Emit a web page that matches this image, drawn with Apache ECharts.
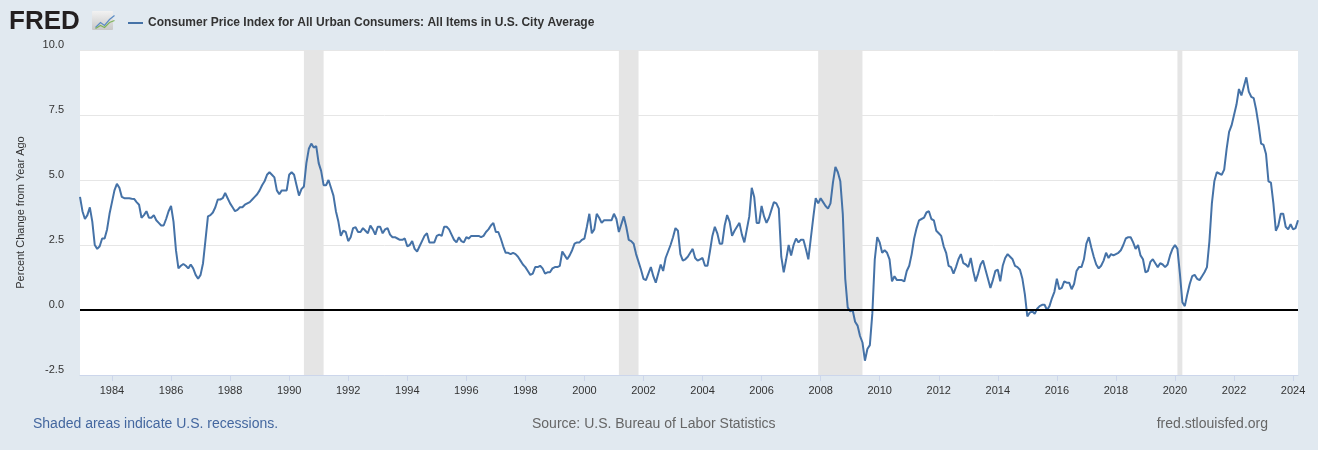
<!DOCTYPE html>
<html>
<head>
<meta charset="utf-8">
<title>CPI - Percent Change from Year Ago</title>
<script src="https://cdn.jsdelivr.net/npm/echarts@6/dist/echarts.min.js"></script>
<style>
  html, body { margin: 0; padding: 0; background: #e1e9f0; }
  #chart { width: 1318px; height: 450px; }
</style>
</head>
<body>
<div id="chart"></div>
<script>
// first observation of the series (monthly)
var startYear = 1982;
var startMonth = 12;

// CPI-U, percent change from year ago, monthly
var cpiYoY = [
  4.35, // Dec 1982
  3.8, 3.5, 3.65, 3.95, 3.4, 2.5, 2.35, 2.45, 2.75, 2.75, 3.1, 3.7,        // 1983
  4.15, 4.6, 4.85, 4.7, 4.35, 4.3, 4.3, 4.3, 4.28, 4.27, 4.15, 4.05,      // 1984
  3.55, 3.65, 3.8, 3.55, 3.55, 3.65, 3.45, 3.35, 3.25, 3.25, 3.5, 3.8,    // 1985
  4.0, 3.4, 2.3, 1.6, 1.7, 1.77, 1.7, 1.6, 1.75, 1.6, 1.35, 1.2,          // 1986
  1.35, 1.8, 2.7, 3.6, 3.65, 3.75, 3.95, 4.25, 4.25, 4.3, 4.5, 4.3,       // 1987
  4.1, 3.95, 3.8, 3.85, 3.95, 3.95, 4.05, 4.1, 4.15, 4.25, 4.35, 4.45,    // 1988
  4.6, 4.8, 4.95, 5.2, 5.3, 5.2, 5.1, 4.6, 4.45, 4.6, 4.6, 4.6,           // 1989
  5.2, 5.3, 5.2, 4.8, 4.4, 4.65, 4.75, 5.65, 6.2, 6.4, 6.25, 6.3,         // 1990
  5.65, 5.35, 4.8, 4.8, 5.0, 4.7, 4.4, 3.8, 3.4, 2.85, 3.05, 3.0,         // 1991
  2.65, 2.8, 3.15, 3.18, 3.0, 3.0, 3.15, 3.05, 2.95, 3.25, 3.1, 2.9,      // 1992
  3.2, 3.2, 2.95, 3.1, 3.15, 2.9, 2.8, 2.8, 2.75, 2.7, 2.7, 2.75,         // 1993
  2.45, 2.5, 2.65, 2.35, 2.25, 2.45, 2.65, 2.85, 2.95, 2.6, 2.6, 2.6,     // 1994
  2.85, 2.9, 2.85, 3.2, 3.2, 3.1, 2.9, 2.7, 2.6, 2.8, 2.65, 2.6,          // 1995
  2.8, 2.75, 2.85, 2.85, 2.85, 2.85, 2.8, 2.85, 3.0, 3.1, 3.25, 3.35,     // 1996
  3.0, 3.0, 2.75, 2.45, 2.2, 2.2, 2.15, 2.2, 2.15, 2.05, 1.9, 1.75,       // 1997
  1.65, 1.5, 1.35, 1.4, 1.65, 1.65, 1.7, 1.6, 1.4, 1.45, 1.45, 1.6,       // 1998
  1.65, 1.65, 1.7, 2.25, 2.1, 1.95, 2.1, 2.3, 2.55, 2.6, 2.6, 2.7,        // 1999
  2.75, 3.2, 3.7, 2.95, 3.1, 3.7, 3.55, 3.35, 3.45, 3.45, 3.45, 3.45,     // 2000
  3.7, 3.5, 3.0, 3.3, 3.6, 3.2, 2.7, 2.65, 2.55, 2.15, 1.85, 1.55,        // 2001
  1.2, 1.15, 1.4, 1.65, 1.3, 1.05, 1.4, 1.75, 1.5, 2.0, 2.25, 2.5,        // 2002
  2.8, 3.15, 3.05, 2.15, 1.9, 1.95, 2.05, 2.2, 2.35, 2.0, 1.9, 1.95,      // 2003
  2.0, 1.7, 1.7, 2.25, 2.85, 3.2, 2.95, 2.55, 2.55, 3.25, 3.65, 3.4,      // 2004
  2.85, 3.05, 3.2, 3.35, 2.9, 2.6, 3.1, 3.6, 4.7, 4.35, 3.35, 3.35,       // 2005
  4.0, 3.6, 3.35, 3.55, 3.85, 4.15, 4.1, 3.9, 2.05, 1.45, 1.95, 2.5,      // 2006
  2.1, 2.5, 2.75, 2.6, 2.7, 2.7, 2.35, 1.95, 2.75, 3.55, 4.3, 4.1,        // 2007
  4.3, 4.15, 4.0, 3.9, 4.1, 4.9, 5.5, 5.3, 4.95, 3.7, 1.2, 0.1,           // 2008
  -0.05, 0.0, -0.45, -0.6, -1.0, -1.25, -1.95, -1.5, -1.35, -0.15, 1.95, 2.8, // 2009
  2.6, 2.2, 2.3, 2.2, 1.95, 1.1, 1.3, 1.15, 1.15, 1.15, 1.1, 1.5,         // 2010
  1.7, 2.15, 2.75, 3.15, 3.45, 3.5, 3.55, 3.75, 3.8, 3.5, 3.45, 3.05,     // 2011
  2.95, 2.85, 2.45, 2.2, 1.7, 1.65, 1.4, 1.65, 1.95, 2.15, 1.8, 1.75,     // 2012
  1.65, 2.0, 1.5, 1.1, 1.4, 1.75, 1.9, 1.55, 1.2, 0.85, 1.15, 1.5,        // 2013
  1.55, 1.1, 1.7, 2.0, 2.15, 2.05, 1.95, 1.7, 1.65, 1.55, 1.2, 0.6,       // 2014
  -0.25, -0.1, -0.05, -0.15, 0.05, 0.15, 0.2, 0.2, 0.0, 0.15, 0.45, 0.7,  // 2015
  1.2, 0.8, 0.85, 1.1, 1.05, 1.05, 0.8, 1.0, 1.5, 1.65, 1.65, 1.95,       // 2016
  2.55, 2.8, 2.4, 2.05, 1.75, 1.6, 1.7, 1.9, 2.2, 2.0, 2.15, 2.1,         // 2017
  2.15, 2.2, 2.3, 2.5, 2.75, 2.8, 2.8, 2.6, 2.35, 2.5, 2.1, 1.95,         // 2018
  1.45, 1.5, 1.85, 1.95, 1.8, 1.65, 1.8, 1.75, 1.65, 1.75, 2.1, 2.35,     // 2019
  2.5, 2.35, 1.4, 0.3, 0.15, 0.6, 1.0, 1.3, 1.35, 1.2, 1.15, 1.3,         // 2020
  1.45, 1.65, 2.65, 4.1, 4.95, 5.3, 5.25, 5.2, 5.4, 6.2, 6.85, 7.1,       // 2021
  7.5, 7.9, 8.5, 8.25, 8.6, 8.95, 8.4, 8.2, 8.15, 7.7, 7.1, 6.4,          // 2022
  6.35, 6.0, 4.95, 4.9, 4.1, 3.05, 3.25, 3.7, 3.7, 3.2, 3.1, 3.3,         // 2023
  3.1, 3.15, 3.45                                                          // 2024
];

// NBER recessions (first and last shaded month)
var recessions = [
  ['1990-07', '1991-03'],
  ['2001-03', '2001-11'],
  ['2007-12', '2009-06'],
  ['2020-02', '2020-04']
];

// y axis ticks
var yTicks = [-2.5, 0.0, 2.5, 5.0, 7.5, 10.0];

var seriesName = 'Consumer Price Index for All Urban Consumers: All Items in U.S. City Average';

// month labels 'YYYY-MM'
var months = [];
for (var i = 0; i < cpiYoY.length; i++) {
  var m = startMonth - 1 + i;
  var y = startYear + Math.floor(m / 12);
  var mm = (m % 12) + 1;
  months.push(y + '-' + (mm < 10 ? '0' + mm : mm));
}

// show a label/tick on January of every even year
function evenJan(idx, val) {
  return val.slice(5) === '01' && parseInt(val.slice(0, 4), 10) % 2 === 0;
}

var font = 'Liberation Sans, Arial, Helvetica, sans-serif';
var chart = echarts.init(document.getElementById('chart'));

var option = {
  backgroundColor: '#e1e9f0',
  animation: false,
  textStyle: { fontFamily: font },
  grid: {
    left: 80,
    right: 20,
    top: 50,
    bottom: 75,
    show: true,
    backgroundColor: '#ffffff',
    borderWidth: 0
  },
  legend: {
    left: 123,
    top: 12,
    itemWidth: 15,
    itemHeight: 2,
    icon: 'rect',
    data: [seriesName],
    textStyle: { fontFamily: font, fontSize: 12, fontWeight: 'bold', color: '#333333' }
  },
  xAxis: {
    type: 'category',
    data: months,
    boundaryGap: false,
    axisLine: { onZero: false, lineStyle: { color: '#ccd6eb', width: 1 } },
    axisTick: { show: true, interval: evenJan, length: 6, lineStyle: { color: '#ccd6eb' } },
    axisLabel: {
      interval: evenJan,
      formatter: function (v) { return v.slice(0, 4); },
      color: '#333333',
      fontSize: 11,
      margin: 10,
      fontFamily: font
    },
    splitLine: { show: false }
  },
  yAxis: {
    type: 'value',
    min: yTicks[0],
    max: yTicks[yTicks.length - 1],
    interval: 2.5,
    name: 'Percent Change from Year Ago',
    nameLocation: 'middle',
    nameGap: 54,
    nameTextStyle: { fontSize: 11, color: '#333333', fontFamily: font },
    axisLine: { show: false },
    axisTick: { show: false },
    axisLabel: {
      formatter: function (v) { return v.toFixed(1); },
      color: '#333333',
      fontSize: 11,
      margin: 16,
      verticalAlign: 'bottom',
      fontFamily: font
    },
    splitLine: { lineStyle: { color: '#e6e6e6', width: 1 } }
  },
  graphic: [
    {
      type: 'text', left: 9, top: 9,
      style: { text: 'FRED', font: 'bold 26px ' + font, fill: '#231f20' }
    },
    {
      type: 'rect', left: 92, top: 11,
      shape: { width: 21, height: 19, r: 1 },
      style: {
        fill: new echarts.graphic.LinearGradient(0, 0, 0, 1, [
          { offset: 0, color: '#f2f2f2' }, { offset: 1, color: '#c8c8c8' }
        ])
      }
    },
    {
      type: 'polyline', left: 93, top: 13,
      shape: { points: [[0, 12], [5, 7], [9, 10], [14, 4], [19, 0]] },
      style: { stroke: '#5b8cc5', lineWidth: 1.2, fill: null }
    },
    {
      type: 'polyline', left: 93, top: 18,
      shape: { points: [[0, 9], [5, 6], [9, 8], [14, 3], [19, 1]] },
      style: { stroke: '#7fb35a', lineWidth: 1.2, fill: null }
    },
    {
      type: 'text', left: 33, top: 417,
      style: { text: 'Shaded areas indicate U.S. recessions.', font: '14px ' + font, fill: '#44679f' }
    },
    {
      type: 'text', left: 532, top: 417,
      style: { text: 'Source: U.S. Bureau of Labor Statistics', font: '14px ' + font, fill: '#666666' }
    },
    {
      type: 'text', right: 50, top: 417,
      style: { text: 'fred.stlouisfed.org', font: '14px ' + font, fill: '#666666' }
    }
  ],
  series: [
    {
      // recession bands and the zero line, drawn under the data line
      name: 'recessions',
      type: 'line',
      data: [],
      z: 1,
      silent: true,
      markArea: {
        silent: true,
        itemStyle: { color: '#e5e5e5' },
        data: recessions.map(function (r) { return [{ xAxis: r[0] }, { xAxis: r[1] }]; })
      },
      markLine: {
        silent: true,
        symbol: 'none',
        label: { show: false },
        lineStyle: { color: '#000000', width: 2, type: 'solid' },
        data: [{ yAxis: 0 }]
      }
    },
    {
      name: seriesName,
      type: 'line',
      data: cpiYoY,
      z: 3,
      showSymbol: false,
      symbol: 'none',
      color: '#4572a7',
      lineStyle: { color: '#4572a7', width: 2 }
    }
  ]
};

chart.setOption(option);
</script>
</body>
</html>
